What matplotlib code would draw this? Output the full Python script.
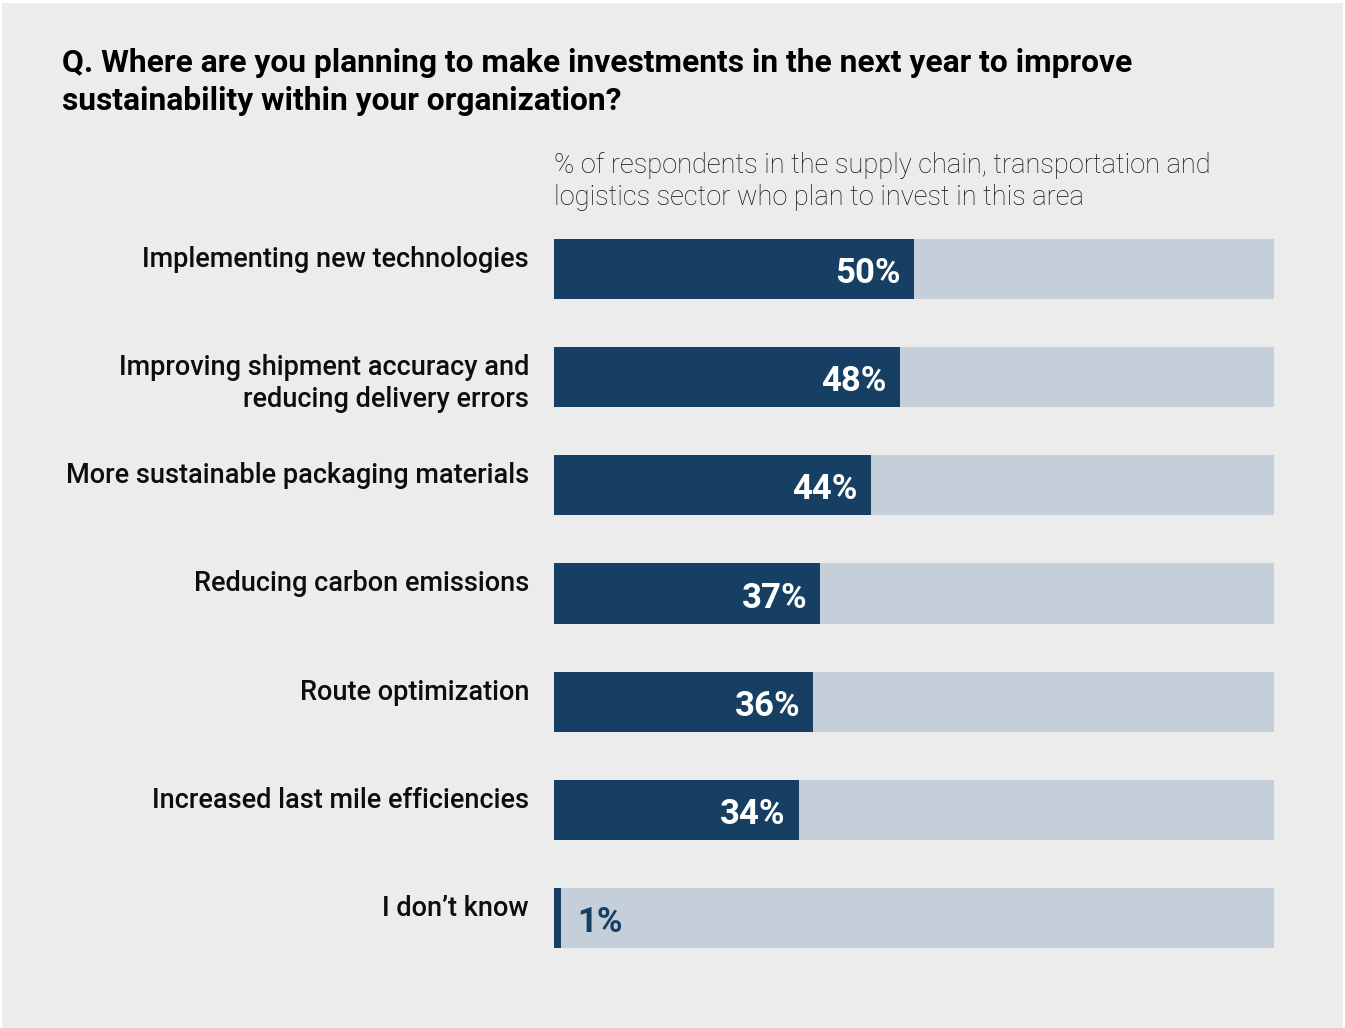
import matplotlib

matplotlib.use("Agg")
import matplotlib.pyplot as plt

plt.rcParams["font.family"] = ["Roboto", "DejaVu Sans"]

categories = [
    "Implementing new technologies",
    "Improving shipment accuracy and\nreducing delivery errors",
    "More sustainable packaging materials",
    "Reducing carbon emissions",
    "Route optimization",
    "Increased last mile efficiencies",
    "I don\u2019t know",
]
values = [50, 48, 44, 37, 36, 34, 1]

TITLE = ["Q. Where are you planning to make investments in the next year to improve",
         "sustainability within your organization?"]
SUBTITLE = ["% of respondents in the supply chain, transportation and",
            "logistics sector who plan to invest in this area"]

BG = "#ECECEC"
DARK = "#173F63"
LIGHT = "#C5CFD9"

W, H = 1345, 1028
fig = plt.figure(figsize=(W / 100, H / 100), dpi=100)
fig.patch.set_facecolor("white")

# grey panel inside a thin white border
panel = plt.Rectangle((2 / W, 0), 1 - 4 / W, 1 - 3 / H, transform=fig.transFigure,
                      facecolor=BG, edgecolor="none", zorder=-10)
fig.patches.append(panel)

# bar area: 554..1274 px wide, first bar top 239 px, last bar bottom 948 px
left, right = 554, 1274
top, bottom = 239, 948
ax = fig.add_axes([left / W, 1 - bottom / H, (right - left) / W, (bottom - top) / H])
ax.set_facecolor("none")

n = len(categories)
bar_h = 60 / 108
ypos = list(range(n))
ax.barh(ypos, [100] * n, height=bar_h, color=LIGHT, zorder=1)
ax.barh(ypos, values, height=bar_h, color=DARK, zorder=2)
ax.set_xlim(0, 100)
ax.set_ylim(n - 1 + bar_h / 2, -bar_h / 2)
ax.axis("off")

for i, (cat, v) in enumerate(zip(categories, values)):
    # category text, one baseline per line, hanging from the bar top
    for k, line in enumerate(cat.split("\n")):
        ax.annotate(line, xy=(0, i - bar_h / 2), xytext=(-25, -28 - 32 * k),
                    textcoords="offset pixels", ha="right", va="baseline",
                    fontsize=19.5, fontweight="medium", color="#0d0d0d",
                    annotation_clip=False)
    if v >= 10:
        ax.annotate(f"{v}%", xy=(v, i + bar_h / 2), xytext=(-13, 16),
                    textcoords="offset pixels", ha="right", va="baseline",
                    fontsize=25, fontweight="bold", color="white")
    else:
        ax.annotate(f"{v}%", xy=(v, i + bar_h / 2), xytext=(16, 16),
                    textcoords="offset pixels", ha="left", va="baseline",
                    fontsize=25, fontweight="bold", color=DARK)

for k, line in enumerate(TITLE):
    fig.text(62 / W, 1 - (72 + 38 * k) / H, line, ha="left", va="baseline",
             fontsize=22.9, fontweight="bold", color="black")
for k, line in enumerate(SUBTITLE):
    fig.text(554 / W, 1 - (173 + 32 * k) / H, line, ha="left", va="baseline",
             fontsize=19.6, fontweight="light", color="#111111")

fig.savefig("out.png", dpi=100, facecolor="white")
